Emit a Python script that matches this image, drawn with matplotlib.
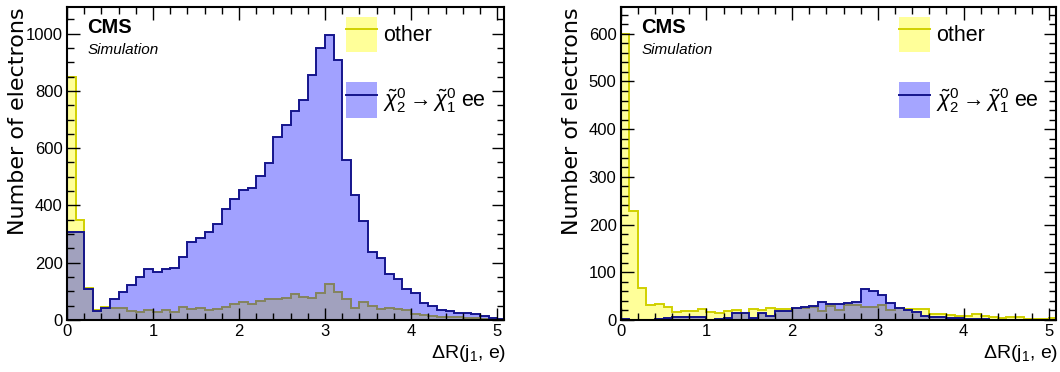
import numpy as np
import matplotlib
matplotlib.use("Agg")
import matplotlib.pyplot as plt
from matplotlib.patches import Patch
from matplotlib.lines import Line2D
from matplotlib.ticker import MultipleLocator

plt.rcParams['font.family'] = ['Liberation Sans', 'DejaVu Sans']
plt.rcParams['mathtext.fontset'] = 'custom'
plt.rcParams['mathtext.rm'] = 'Liberation Sans'
plt.rcParams['mathtext.it'] = 'Liberation Sans:italic'

# binning: dR(j1, e) in 0.1 wide bins from 0 to 5.1
bin_edges = np.round(np.arange(0, 5.11, 0.1), 2)

# left panel (all electrons)
other_left = [847, 348, 111, 35, 46, 41, 43, 31, 29, 35, 29, 35, 29, 46, 39, 43, 35, 39, 46, 55,
              64, 55, 66, 72, 72, 78, 92, 80, 78, 95, 124, 99, 72, 43, 63, 49, 37, 43, 37, 34,
              20, 16, 14, 12, 10, 9, 7, 6, 5, 4, 3]
signal_left = [308, 306, 109, 31, 43, 72, 98, 121, 151, 179, 168, 177, 182, 221, 273, 285, 308, 336, 386, 423,
               453, 461, 502, 548, 639, 682, 731, 769, 857, 951, 995, 908, 557, 438, 347, 238, 217, 159, 144, 109,
               93, 58, 49, 35, 31, 23, 23, 20, 14, 8, 5]

# right panel
other_right = [600, 229, 67, 31, 34, 28, 17, 18, 19, 24, 17, 15, 18, 20, 15, 23, 22, 25, 23, 23,
               25, 25, 27, 18, 29, 22, 32, 32, 27, 27, 32, 22, 25, 23, 23, 23, 13, 13, 11, 9,
               8, 13, 8, 6, 4, 6, 6, 3, 3, 2, 4]
signal_right = [2, 1, 0, 1, 3, 4, 6, 6, 6, 6, 0, 3, 4, 14, 14, 4, 15, 8, 19, 19,
                25, 27, 30, 38, 33, 33, 35, 38, 64, 60, 52, 36, 25, 20, 16, 8, 6, 6, 4, 4,
                3, 2, 2, 1, 1, 1, 1, 0, 0, 0, 0]

legend_labels = ['other', r'$\tilde{\chi}^{0}_{2}\rightarrow\tilde{\chi}^{0}_{1}$ ee']

yellow_fill = '#ffff99'
yellow_line = '#d0d000'
blue_fill = (0.0, 0.0, 1.0, 0.37)
blue_line = '#15158c'


def draw_panel(ax, other, signal, ymax, ymajor, yminor):
    ax.stairs(other, bin_edges, fill=True, color=yellow_fill, lw=0)
    ax.stairs(other, bin_edges, color=yellow_line, lw=1.4)
    ax.stairs(signal, bin_edges, fill=True, color=blue_fill, lw=0)
    ax.stairs(signal, bin_edges, color=blue_line, lw=1.4)

    ax.set_xlim(0, 5.08)
    ax.set_ylim(0, ymax)
    ax.xaxis.set_major_locator(MultipleLocator(1))
    ax.xaxis.set_minor_locator(MultipleLocator(0.2))
    ax.yaxis.set_major_locator(MultipleLocator(ymajor))
    ax.yaxis.set_minor_locator(MultipleLocator(yminor))
    ax.tick_params(which='both', direction='in', top=True, right=True, width=1.0,
                   labelsize=12, pad=3)
    ax.tick_params(which='major', length=9)
    ax.tick_params(which='minor', length=5)
    for s in ax.spines.values():
        s.set_linewidth(1.5)

    ax.set_ylabel('Number of electrons', family='DejaVu Sans', fontsize=16, loc='top')
    ax.yaxis.set_label_coords(-0.089, 1.0)
    ax.text(1.005, -0.12, r'$\Delta$R(j$_1$, e)', transform=ax.transAxes,
            ha='right', va='baseline', fontsize=14)

    ax.text(0.047, 0.935, 'CMS', transform=ax.transAxes, fontsize=14.5,
            fontweight='bold', va='center')
    ax.text(0.047, 0.862, 'Simulation', transform=ax.transAxes, fontsize=11,
            style='italic', va='center')

    handles = [(Patch(facecolor=yellow_fill, edgecolor='none'), Line2D([], [], color=yellow_line, lw=1.4)),
               (Patch(facecolor='#a5a5ff', edgecolor='none'), Line2D([], [], color=blue_line, lw=1.4))]
    ax.legend(handles, legend_labels, loc='upper left', bbox_to_anchor=(0.638, 0.968),
              frameon=False, fontsize=15.5, handlelength=1.44, handleheight=2.14,
              labelspacing=1.4, handletextpad=0.3, borderpad=0, borderaxespad=0)


fig = plt.figure(figsize=(10.6, 3.72), dpi=100)
ax1 = fig.add_axes([67 / 1060, 52 / 372, 437 / 1060, 313 / 372])
ax2 = fig.add_axes([620.7 / 1060, 52 / 372, 435.5 / 1060, 313 / 372])

draw_panel(ax1, other_left, signal_left, 1093, 200, 50)
draw_panel(ax2, other_right, signal_right, 656, 100, 20)

fig.savefig('out.png', dpi=100)
